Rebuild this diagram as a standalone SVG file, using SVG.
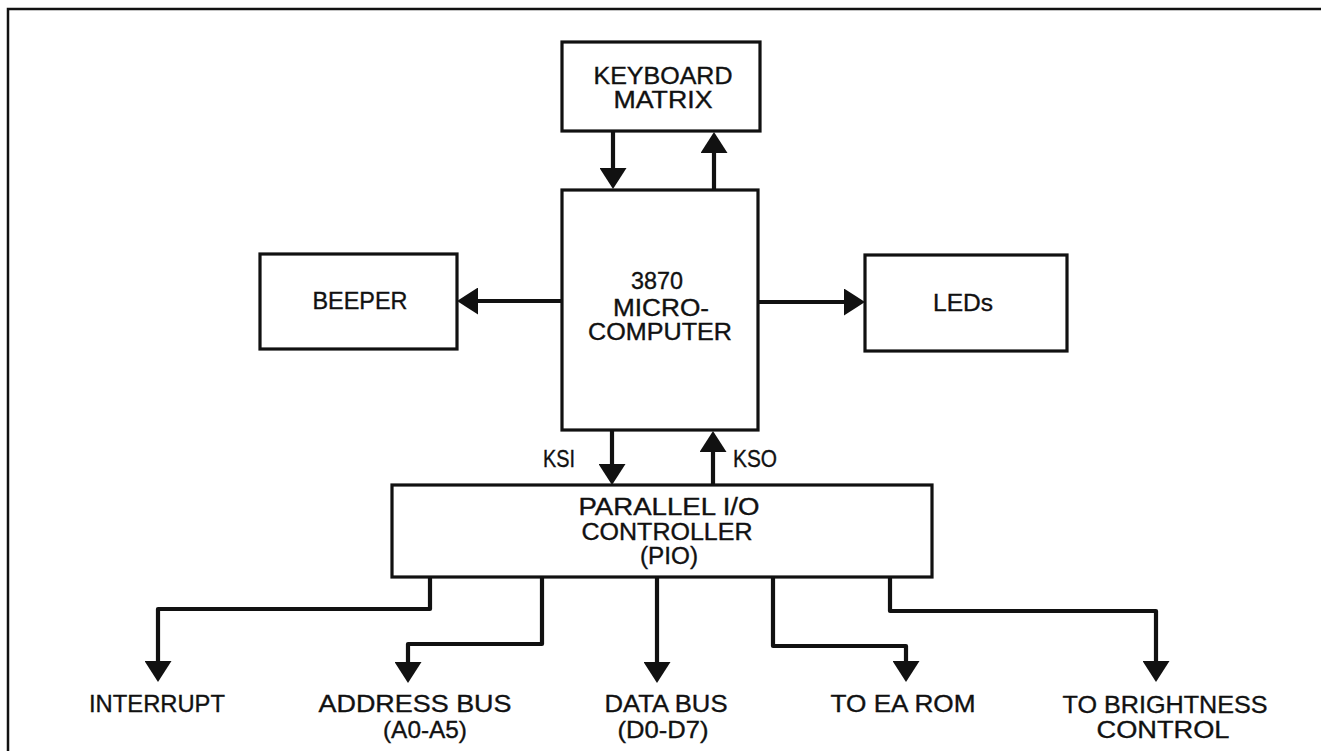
<svg xmlns="http://www.w3.org/2000/svg" width="1321" height="751" viewBox="0 0 1321 751">
<style>
  .box { fill: #ffffff; stroke: #111111; stroke-width: 3.2; }
  .frame { fill: none; stroke: #111111; stroke-width: 2.5; }
  .conn { fill: none; stroke: #111111; stroke-width: 4.2; stroke-linejoin: round; marker-end: url(#ah); }
  .lbl { font-family: "Liberation Sans", Arial, Helvetica, sans-serif; font-size: 23.5px; fill: #111111; stroke: #111111; stroke-width: 0.35; text-anchor: middle; }
  .big { font-size: 24.5px; }
  .st { text-anchor: start; }
</style>
<defs>
  <marker id="ah" viewBox="0 0 21 27" refX="0" refY="13.5" markerWidth="21" markerHeight="27" markerUnits="userSpaceOnUse" orient="auto">
    <path d="M0 0 L21 13.5 L0 27 Z" fill="#111111"/>
  </marker>
</defs>
<rect width="1321" height="751" fill="#ffffff"/>
<path class="frame" d="M8 751 V9 H1321"/>

<g id="connectors">
  <path class="conn" d="M613 131 V168"/>
  <path class="conn" d="M714 190 V153"/>
  <path class="conn" d="M562 301 H478"/>
  <path class="conn" d="M758 302 H844"/>
  <path class="conn" d="M612 430 V464"/>
  <path class="conn" d="M713 485 V452"/>
  <path class="conn" d="M430 577 V609 H158 V661"/>
  <path class="conn" d="M542 577 V644 H408 V662"/>
  <path class="conn" d="M657 577 V662"/>
  <path class="conn" d="M773 577 V646 H906 V661"/>
  <path class="conn" d="M890 577 V611 H1156 V661"/>
  <text class="lbl st" x="543" y="467" textLength="32" lengthAdjust="spacingAndGlyphs">KSI</text>
  <text class="lbl st" x="733" y="467" textLength="44" lengthAdjust="spacingAndGlyphs">KSO</text>
</g>

<g id="keyboard">
  <rect class="box" x="562" y="42" width="198" height="89"/>
  <text class="lbl" x="663" y="84" textLength="139" lengthAdjust="spacingAndGlyphs">KEYBOARD</text>
  <text class="lbl" x="663" y="108" textLength="99" lengthAdjust="spacingAndGlyphs">MATRIX</text>
</g>

<g id="micro">
  <rect class="box" x="562" y="190" width="196" height="240"/>
  <text class="lbl" x="657" y="289" textLength="52" lengthAdjust="spacingAndGlyphs">3870</text>
  <text class="lbl" x="661" y="316" textLength="96" lengthAdjust="spacingAndGlyphs">MICRO-</text>
  <text class="lbl" x="660" y="340" textLength="144" lengthAdjust="spacingAndGlyphs">COMPUTER</text>
</g>

<g id="beeper">
  <rect class="box" x="260" y="254" width="197" height="95"/>
  <text class="lbl" x="360" y="309" textLength="95" lengthAdjust="spacingAndGlyphs">BEEPER</text>
</g>

<g id="leds">
  <rect class="box" x="865" y="255" width="202" height="96"/>
  <text class="lbl" x="963" y="311" textLength="60" lengthAdjust="spacingAndGlyphs">LEDs</text>
</g>

<g id="pio">
  <rect class="box" x="392" y="485" width="540" height="92"/>
  <text class="lbl" x="669" y="515" textLength="181" lengthAdjust="spacingAndGlyphs">PARALLEL I/O</text>
  <text class="lbl" x="667" y="540" textLength="171" lengthAdjust="spacingAndGlyphs">CONTROLLER</text>
  <text class="lbl" x="669" y="564" textLength="58" lengthAdjust="spacingAndGlyphs">(PIO)</text>
</g>

<g id="interrupt">
  <text class="lbl big" x="157" y="712" textLength="136" lengthAdjust="spacingAndGlyphs">INTERRUPT</text>
</g>
<g id="address-bus">
  <text class="lbl big" x="415" y="712" textLength="193" lengthAdjust="spacingAndGlyphs">ADDRESS BUS</text>
  <text class="lbl big" x="425" y="738" textLength="84" lengthAdjust="spacingAndGlyphs">(A0-A5)</text>
</g>
<g id="data-bus">
  <text class="lbl big" x="666" y="712" textLength="123" lengthAdjust="spacingAndGlyphs">DATA BUS</text>
  <text class="lbl big" x="663" y="738" textLength="91" lengthAdjust="spacingAndGlyphs">(D0-D7)</text>
</g>
<g id="ea-rom">
  <text class="lbl big" x="903" y="712" textLength="145" lengthAdjust="spacingAndGlyphs">TO EA ROM</text>
</g>
<g id="brightness">
  <text class="lbl big" x="1165" y="713" textLength="205" lengthAdjust="spacingAndGlyphs">TO BRIGHTNESS</text>
  <text class="lbl big" x="1163" y="738" textLength="133" lengthAdjust="spacingAndGlyphs">CONTROL</text>
</g>
</svg>
